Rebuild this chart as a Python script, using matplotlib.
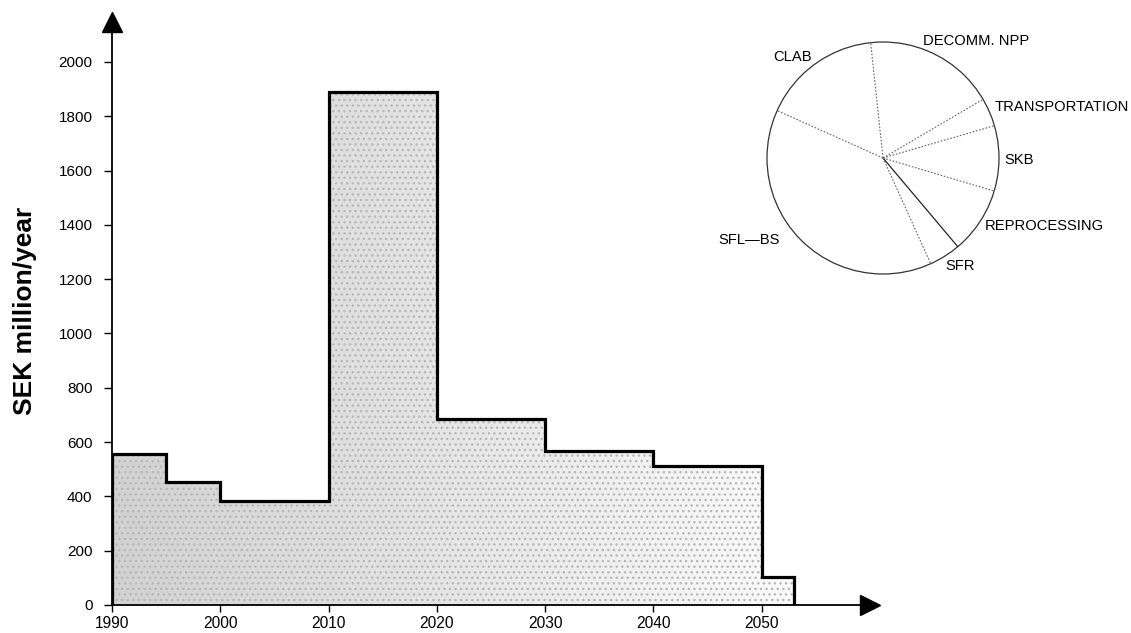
import numpy as np
import matplotlib
matplotlib.use("Agg")
import matplotlib.pyplot as plt

plt.rcParams["font.family"] = ["Liberation Sans", "DejaVu Sans"]

# yearly cost steps (SEK million/year)
edges = [1990, 1995, 2000, 2010, 2020, 2030, 2040, 2050, 2053]
costs = [555, 452, 383, 1890, 685, 567, 512, 103]
xticks = [1990, 2000, 2010, 2020, 2030, 2040, 2050]
yticks = list(range(0, 2001, 200))

# cost shares, counter-clockwise from the SFL-BS / SFR boundary
parts = ["SFR", "REPROCESSING", "SKB", "TRANSPORTATION", "DECOMM. NPP", "CLAB", "SFL\u2014BS"]
shares = [4.4, 9.25, 9.1, 3.95, 18.25, 16.6, 38.45]

fig = plt.figure(figsize=(11.31, 6.33), dpi=100)
ax = fig.add_axes([112 / 1131, 28 / 633, 758 / 1131, 583 / 633])

# stippled grey fill, darker on the left
body = ax.stairs(costs, edges, fill=True, facecolor="none", edgecolor="none")
grad = np.linspace(0.82, 0.98, 256).reshape(1, -1)
im = ax.imshow(grad, extent=[edges[0], edges[-1], 0, max(costs)], cmap="gray",
               vmin=0, vmax=1, aspect="auto", interpolation="bicubic")
im.set_clip_path(body)
ax.stairs(costs, edges, fill=True, facecolor="none", edgecolor="#b8b8b8",
          hatch="...", linewidth=0)
ax.stairs(costs, edges, baseline=0, color="black", lw=2.3)

ax.set_xlim(1990, 2060)
ax.set_ylim(0, 2147)
ax.set_xticks(xticks)
ax.set_yticks(yticks)
ax.tick_params(axis="x", length=5, width=1, pad=3, labelsize=11.2)
ax.tick_params(axis="y", length=6, width=1, pad=8, labelsize=11)
for s in ["top", "right"]:
    ax.spines[s].set_visible(False)
for s in ["left", "bottom"]:
    ax.spines[s].set_linewidth(1.3)
ax.plot([0], [1], marker="^", ms=15, color="black", transform=ax.transAxes, clip_on=False)
ax.plot([1], [0], marker=">", ms=15, color="black", transform=ax.transAxes, clip_on=False)

fig.text(25 / 1131, 1 - 311 / 633, "SEK million/year", rotation=90, fontsize=19,
         fontweight="bold", ha="center", va="center")

# pie of cost shares, outline only
r = 116 * 1.05
pax = fig.add_axes([(883 - r) / 1131, (633 - 158 - r) / 633, 2 * r / 1131, 2 * r / 633])
wedges, _ = pax.pie(shares, startangle=-65.7, counterclock=True, colors=["white"] * len(shares),
                    wedgeprops=dict(linewidth=0, edgecolor="none"))
for i, w in enumerate(wedges):
    t = np.deg2rad(w.theta1)
    if parts[i] == "REPROCESSING":
        pax.plot([0, np.cos(t)], [0, np.sin(t)], color="#222222", lw=0.9)
    else:
        pax.plot([0, np.cos(t)], [0, np.sin(t)], color="#666666", lw=0.8, ls=(0, (1.5, 1.5)))
pax.add_patch(plt.Circle((0, 0), 1, fill=False, ec="#333333", lw=0.9))
pax.set_xlim(-1.05, 1.05)
pax.set_ylim(-1.05, 1.05)
pax.axis("off")

label_pos = {
    "DECOMM. NPP": (0.345, 1.01, "left"),
    "TRANSPORTATION": (0.966, 0.44, "left"),
    "SKB": (1.05, -0.017, "left"),
    "REPROCESSING": (0.875, -0.586, "left"),
    "SFR": (0.534, -0.93, "left"),
    "SFL\u2014BS": (-0.888, -0.707, "right"),
    "CLAB": (-0.948, 0.87, "left"),
}
for name in parts:
    x, y, ha = label_pos[name]
    pax.text(x, y, name, fontsize=10.6, ha=ha, va="center", clip_on=False)

fig.savefig("out.png", dpi=100)
